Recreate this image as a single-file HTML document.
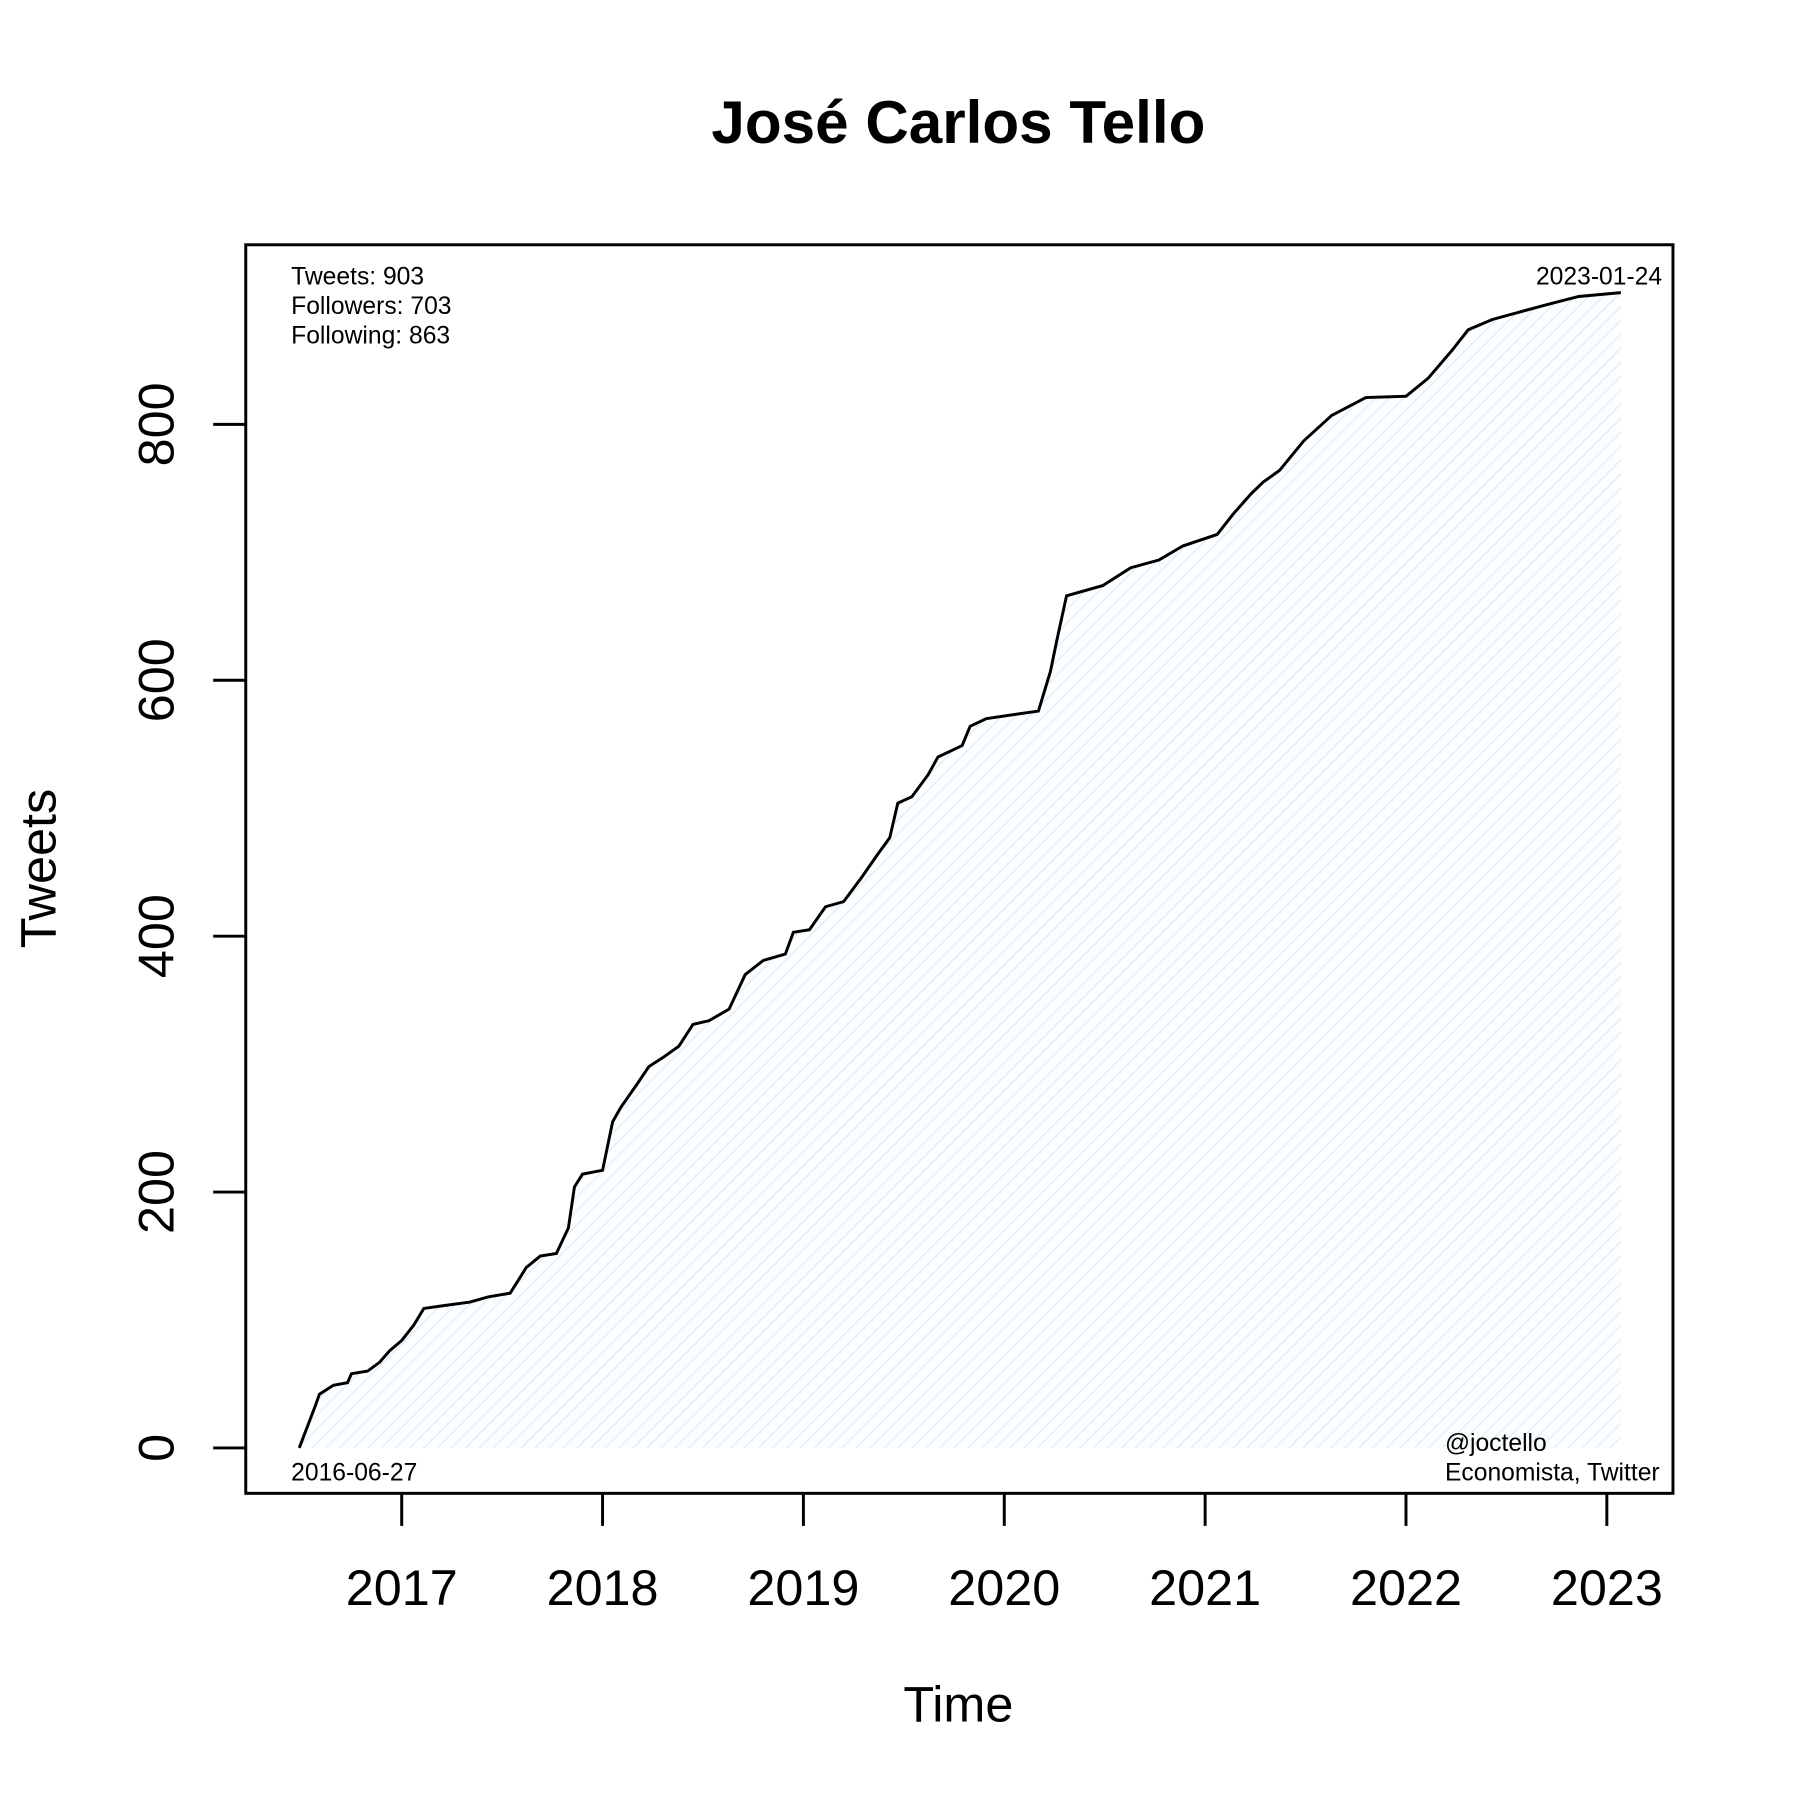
<!DOCTYPE html>
<html><head><meta charset="utf-8"><style>body{margin:0;background:#fff}svg{display:block}text{font-family:"Liberation Sans",Arial,sans-serif;fill:#000}</style></head>
<body>
<svg id="chart" width="1800" height="1800" viewBox="0 0 1800 1800">
<defs><pattern id="hatch" patternUnits="userSpaceOnUse" width="10" height="10" patternTransform="rotate(45)"><rect width="10" height="10" fill="#fcfeff"/><line x1="0" y1="0" x2="0" y2="10" stroke="#e2eff4" stroke-width="3"/></pattern></defs>
<g transform="scale(0.987)">
<text x="971" y="145" font-size="61" font-weight="bold" text-anchor="middle">José Carlos Tello</text>
<g id="plot"></g>
<rect x="249" y="248" width="1446" height="1265" fill="none" stroke="#000" stroke-width="3"/>
<text x="295" y="288" font-size="25">Tweets: 903</text>
<text x="295" y="318" font-size="25">Followers: 703</text>
<text x="295" y="348" font-size="25">Following: 863</text>
<text x="1684" y="288" font-size="25" text-anchor="end">2023-01-24</text>
<text x="295" y="1500" font-size="25">2016-06-27</text>
<text x="1464" y="1470" font-size="25">@joctello</text>
<text x="1464" y="1500" font-size="25">Economista, Twitter</text>
<text x="971" y="1744" font-size="51" text-anchor="middle">Time</text>
<text transform="translate(56,880) rotate(-90)" font-size="51" text-anchor="middle">Tweets</text>
</g>
</svg>
<script>
const dates=[2016.49,2016.57,2016.59,2016.66,2016.73,2016.75,2016.83,2016.89,2016.94,2017.0,2017.06,2017.11,2017.2,2017.34,2017.43,2017.54,2017.62,2017.69,2017.77,2017.83,2017.86,2017.9,2018.0,2018.05,2018.09,2018.17,2018.23,2018.3,2018.38,2018.45,2018.53,2018.63,2018.71,2018.8,2018.91,2018.95,2019.03,2019.11,2019.2,2019.29,2019.37,2019.43,2019.47,2019.54,2019.62,2019.67,2019.79,2019.83,2019.91,2020.17,2020.23,2020.26,2020.31,2020.49,2020.63,2020.77,2020.89,2021.06,2021.14,2021.23,2021.29,2021.37,2021.49,2021.63,2021.8,2022.0,2022.11,2022.23,2022.31,2022.43,2022.57,2022.71,2022.86,2023.07];
const tweets=[0,33,42,49,51,58,60,67,76,84,96,109,111,114,118,121,141,150,152,172,204,214,217,255,266,284,298,305,314,331,334,343,370,381,386,403,405,423,427,446,464,477,504,509,526,540,549,564,570,576,607,630,666,674,688,694,705,714,730,746,755,764,787,807,821,822,836,858,874,882,888,894,900,903];
const xTicks=[2017,2018,2019,2020,2021,2022,2023];
const yTicks=[0,200,400,600,800];
const X=v=>407+(v-2017)*203.5;
const Y=v=>1467-v*(1037/800);
const ns='http://www.w3.org/2000/svg';
const g=document.getElementById('plot');
function mk(t,a){const e=document.createElementNS(ns,t);for(const k in a)e.setAttribute(k,a[k]);g.appendChild(e);return e;}
let pts=dates.map((d,i)=>X(d).toFixed(1)+','+Y(tweets[i]).toFixed(1));
const area=mk('path',{d:'M'+X(dates[0])+','+Y(0)+' L'+pts.join(' L')+' L'+X(dates[dates.length-1])+','+Y(0)+'Z',fill:'url(#hatch)'});


const line=mk('polyline',{points:pts.join(' '),fill:'none',stroke:'#000','stroke-width':3});


xTicks.forEach(t=>{
 const l=mk('line',{x1:X(t),x2:X(t),y1:1513,y2:1546,stroke:'#000','stroke-width':3});
 
 
 const tx=mk('text',{x:X(t),y:1626,'font-size':51,'text-anchor':'middle'});tx.textContent=t;
 
 
});
yTicks.forEach(t=>{
 const l=mk('line',{x1:216,x2:249,y1:Y(t),y2:Y(t),stroke:'#000','stroke-width':3});
 
 
 const tx=mk('text',{transform:'translate(176,'+Y(t)+') rotate(-90)','font-size':51,'text-anchor':'middle'});tx.textContent=t;
 
 
});
</script>
</body></html>
